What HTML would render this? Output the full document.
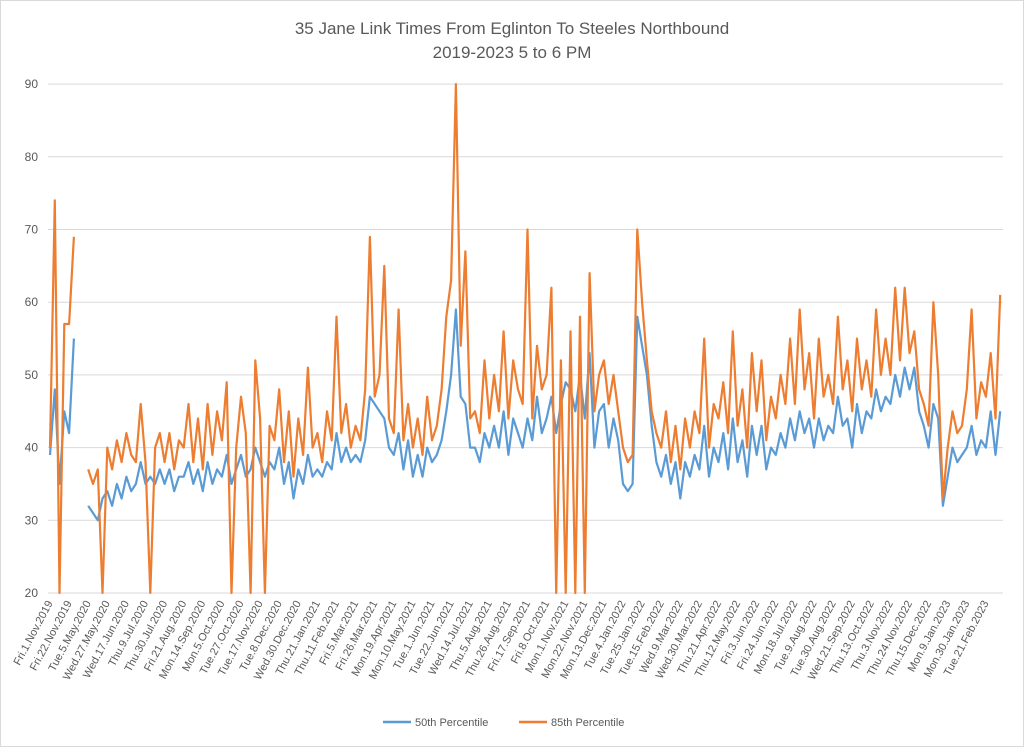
<!DOCTYPE html>
<html><head><meta charset="utf-8"><style>
html,body{margin:0;padding:0;background:#fff;}
svg{display:block;font-family:"Liberation Sans",sans-serif;}
</style></head><body>
<svg id="chart" width="1024" height="747" viewBox="0 0 1024 747" xmlns="http://www.w3.org/2000/svg">
<rect x="0.5" y="0.5" width="1023" height="746" fill="#fff" stroke="#d9d9d9"/>
<text x="512" y="34" text-anchor="middle" font-size="17" fill="#595959">35 Jane Link Times From Eglinton To Steeles Northbound</text>
<text x="512" y="58" text-anchor="middle" font-size="17" fill="#595959">2019-2023 5 to 6 PM</text>
<g id="grid"></g><g id="xlabels"></g><g id="series"></g>
<g>
<line x1="383" y1="722" x2="411" y2="722" stroke="#5B9BD5" stroke-width="2.5"/>
<text x="415" y="726" font-size="11" fill="#595959">50th Percentile</text>
<line x1="519" y1="722" x2="547" y2="722" stroke="#ED7D31" stroke-width="2.5"/>
<text x="551" y="726" font-size="11" fill="#595959">85th Percentile</text>
</g>
</svg>
<script>
const yTicks=[20,30,40,50,60,70,80,90];
const xLabels=["Fri.1.Nov.2019","Fri.22.Nov.2019","Tue.5.May.2020","Wed.27.May.2020","Wed.17.Jun.2020","Thu.9.Jul.2020","Thu.30.Jul.2020","Fri.21.Aug.2020","Mon.14.Sep.2020","Mon.5.Oct.2020","Tue.27.Oct.2020","Tue.17.Nov.2020","Tue.8.Dec.2020","Wed.30.Dec.2020","Thu.21.Jan.2021","Thu.11.Feb.2021","Fri.5.Mar.2021","Fri.26.Mar.2021","Mon.19.Apr.2021","Mon.10.May.2021","Tue.1.Jun.2021","Tue.22.Jun.2021","Wed.14.Jul.2021","Thu.5.Aug.2021","Thu.26.Aug.2021","Fri.17.Sep.2021","Fri.8.Oct.2021","Mon.1.Nov.2021","Mon.22.Nov.2021","Mon.13.Dec.2021","Tue.4.Jan.2022","Tue.25.Jan.2022","Tue.15.Feb.2022","Wed.9.Mar.2022","Wed.30.Mar.2022","Thu.21.Apr.2022","Thu.12.May.2022","Fri.3.Jun.2022","Fri.24.Jun.2022","Mon.18.Jul.2022","Tue.9.Aug.2022","Tue.30.Aug.2022","Wed.21.Sep.2022","Thu.13.Oct.2022","Thu.3.Nov.2022","Thu.24.Nov.2022","Thu.15.Dec.2022","Mon.9.Jan.2023","Mon.30.Jan.2023","Tue.21.Feb.2023"];
const p85=[40,74,20,57,57,69,null,null,37,35,37,20,40,37,41,38,42,39,38,46,38,20,40,42,38,42,37,41,40,46,38,44,37,46,39,45,41,49,20,40,47,42,20,52,44,20,43,41,48,38,45,36,44,39,51,40,42,38,45,41,58,42,46,40,43,41,48,69,47,50,65,44,42,59,41,46,40,44,39,47,41,43,48,58,63,90,54,67,44,45,42,52,44,50,45,56,44,52,48,46,70,44,54,48,50,62,20,52,20,56,20,58,20,64,45,50,52,46,50,45,40,38,39,70,60,52,45,42,40,45,38,43,37,44,40,45,42,55,40,46,44,49,42,56,43,48,40,53,45,52,41,47,44,50,46,55,46,59,48,53,44,55,47,50,46,58,48,52,45,55,48,52,47,59,50,55,50,62,52,62,53,56,48,46,43,60,50,33,40,45,42,43,48,59,44,49,47,53,44,61];
const p50=[39,48,35,45,42,55,null,null,32,31,30,33,34,32,35,33,36,34,35,38,35,36,35,37,35,37,34,36,36,38,35,37,34,38,35,37,36,39,35,37,39,36,37,40,38,36,38,37,40,35,38,33,37,35,39,36,37,36,38,37,42,38,40,38,39,38,41,47,46,45,44,40,39,42,37,41,36,39,36,40,38,39,41,45,50,59,47,46,40,40,38,42,40,43,40,45,39,44,42,40,44,41,47,42,44,47,42,46,49,48,45,50,44,53,40,45,46,40,44,41,35,34,35,58,54,50,43,38,36,39,35,38,33,38,36,39,37,43,36,40,38,42,37,44,38,41,36,43,39,43,37,40,39,42,40,44,41,45,42,44,40,44,41,43,42,47,43,44,40,46,42,45,44,48,45,47,46,50,47,51,48,51,45,43,40,46,44,32,36,40,38,39,40,43,39,41,40,45,39,45];
const NS="http://www.w3.org/2000/svg";
const X0=50,STEP=4.775,Y20=593,PX=72.7;
function xs(i){return X0+i*STEP;}
function ys(v){return Y20-(v-20)*PX/10;}
const grid=document.getElementById('grid');
yTicks.forEach(t=>{
  const l=document.createElementNS(NS,'line');
  l.setAttribute('x1',48);l.setAttribute('x2',1003);
  l.setAttribute('y1',ys(t));l.setAttribute('y2',ys(t));
  l.setAttribute('stroke','#d9d9d9');l.setAttribute('stroke-width','1');
  
  
  grid.appendChild(l);
  const tx=document.createElementNS(NS,'text');
  tx.setAttribute('x',38);tx.setAttribute('y',ys(t)+4);
  tx.setAttribute('text-anchor','end');tx.setAttribute('font-size','12');tx.setAttribute('fill','#595959');
  tx.textContent=t;
  
  
  grid.appendChild(tx);
});
const xl=document.getElementById('xlabels');
xLabels.forEach((s,k)=>{
  const x=xs(k*4)+3,y=603;
  const t=document.createElementNS(NS,'text');
  t.setAttribute('x',x);t.setAttribute('y',y);
  t.setAttribute('text-anchor','end');t.setAttribute('font-size','11');t.setAttribute('fill','#595959');
  t.setAttribute('transform','rotate(-62 '+x+' '+y+')');
  t.textContent=s;
  
  
  xl.appendChild(t);
});
const sg=document.getElementById('series');
function draw(arr,color,name){
  let d='',pen=false;
  arr.forEach((v,i)=>{
    if(v===null){pen=false;return;}
    d+=(pen?'L':'M')+xs(i).toFixed(1)+' '+ys(v).toFixed(1)+' ';pen=true;
  });
  const p=document.createElementNS(NS,'path');
  p.setAttribute('d',d);p.setAttribute('fill','none');p.setAttribute('stroke',color);
  p.setAttribute('stroke-width','2.2');p.setAttribute('stroke-linejoin','round');
  
  
  sg.appendChild(p);
}
draw(p50,'#5B9BD5','series-50th-percentile');
draw(p85,'#ED7D31','series-85th-percentile');
</script>
</body></html>
